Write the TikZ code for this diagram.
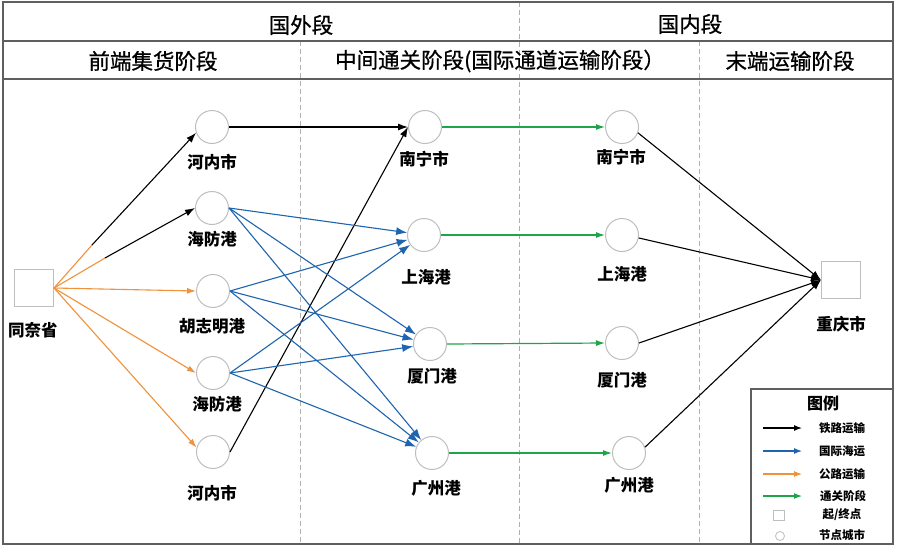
\documentclass[tikz,border=0pt]{standalone}
\usepackage{fontspec}
\setmainfont{Noto Sans CJK SC}
\newfontfamily\headfont[FakeBold=0.8]{Noto Sans CJK SC}
\usetikzlibrary{arrows.meta}
\definecolor{cblue}{RGB}{30,100,175}
\definecolor{corange}{RGB}{240,145,60}
\definecolor{cgreen}{RGB}{30,165,75}
\definecolor{cgray}{RGB}{190,190,190}
\definecolor{cdash}{RGB}{175,175,175}
\definecolor{cframe}{RGB}{95,95,95}
\begin{document}
\begin{tikzpicture}[x=1pt,y=-1pt,
  city/.style={circle,draw=cgray,line width=1pt,minimum size=33pt,inner sep=0pt},
  endpt/.style={rectangle,draw=cgray,line width=1pt,minimum width=39pt,minimum height=37pt,inner sep=0pt},
  lab/.style={font=\bfseries\fontsize{16.5}{16.5}\selectfont,inner sep=0pt},
  head/.style={font=\headfont\fontsize{21.5}{21.5}\selectfont,inner sep=0pt},
  leglab/.style={font=\bfseries\fontsize{11.5}{11.5}\selectfont,inner sep=0pt},
  frameline/.style={cframe,line width=1.3pt},
  sepline/.style={cdash,line width=1pt,dash pattern=on 5pt off 3pt},
  rail/.style={black,line width=1.1pt,-{Latex[length=10pt,width=7pt]}},
  sea/.style={cblue,line width=1.1pt,-{Latex[length=11pt,width=8pt]}},
  road/.style={corange,line width=1.1pt,-{Latex[length=9pt,width=6pt]}},
  cust/.style={cgreen,line width=1.2pt,-{Latex[length=9pt,width=6pt]}},
  legtip/.style={-{Latex[length=8pt,width=6pt]}}
]
\useasboundingbox (0,0) rectangle (900,547);
\fill[white] (0,0) rectangle (900,547);

% separators
\draw[sepline] (300,41) -- (300,544);
\draw[sepline] (519,2) -- (519,544);
\draw[sepline] (699,41) -- (699,544);

% frame and header rows
\draw[frameline] (3,2) rectangle (893,544);
\draw[frameline] (3,41) -- (893,41);
\draw[frameline] (3,79) -- (893,79);

\node[head] (h1) at (301,25) {国外段};
\node[head] (h2) at (690,24) {国内段};
\node[head] (h3) at (153,61) {前端集货阶段};
\node[head] (h4) at (500,61) {中间通关阶段(国际通道运输阶段）};
\node[head] (h5) at (790,61) {末端运输阶段};

% nodes
\node[endpt] (sq) at (34,288) {};
\node[lab] (sqL) at (33,330) {同奈省};

\node[city] (hn1) at (212,127) {};
\node[lab] (hn1L) at (212,162) {河内市};
\node[city] (hf1) at (212,208) {};
\node[lab] (hf1L) at (212,239) {海防港};
\node[city] (hcm) at (213,291) {};
\node[lab] (hcmL) at (212,326) {胡志明港};
\node[city] (hf2) at (213,373) {};
\node[lab] (hf2L) at (217,404) {海防港};
\node[city] (hn2) at (213,452) {};
\node[lab] (hn2L) at (212,493) {河内市};

\node[city] (n2) at (425,127) {};
\node[lab] (n2L) at (424,159) {南宁市};
\node[city] (s2) at (424,235) {};
\node[lab] (s2L) at (426,277) {上海港};
\node[city] (x2) at (430,344) {};
\node[lab] (x2L) at (432,376) {厦门港};
\node[city] (g2) at (432,453) {};
\node[lab] (g2L) at (436,488) {广州港};

\node[city] (n3) at (622,127) {};
\node[lab] (n3L) at (621,157) {南宁市};
\node[city] (s3) at (622,235) {};
\node[lab] (s3L) at (622,274) {上海港};
\node[city] (x3) at (622,343) {};
\node[lab] (x3L) at (622,380) {厦门港};
\node[city] (g3) at (629,453) {};
\node[lab] (g3L) at (629,485) {广州港};

\node[endpt] (cq) at (841,280) {};
\node[lab] (cqL) at (841,324) {重庆市};

% road (orange) then rail
\coordinate (kb1) at (92,245);
\coordinate (kb2) at (105,258);
\draw[corange,line width=1.1pt] (sq.east) -- (kb1);
\draw[corange,line width=1.1pt] (sq.east) -- (kb2);
\draw[rail] (kb1) -- (hn1.200);
\draw[rail] (kb2) -- (hf1.west);
\draw[road] (sq.east) -- (hcm.west);
\draw[road] (sq.east) -- (hf2.west);
\draw[road] (sq.east) -- (hn2.165);

% rail to Nanning
\draw[rail] (hn1.east) -- (n2.west);
\draw[rail] (hn2.east) -- (n2.west);

% sea routes
\foreach \a in {hf1,hcm,hf2}{
  \foreach \b in {s2,x2,g2}{
    \draw[sea] (\a.east) -- (\b);
  }
}

% customs
\draw[cust] (n2.east) -- (n3.west);
\draw[cust] (s2.east) -- (s3.west);
\draw[cust] (x2.east) -- (x3.west);
\draw[cust] (g2.east) -- (g3.west);

% rail to Chongqing
\draw[rail] (n3.-20) -- (cq.west);
\draw[rail] (s3.-10) -- (cq.west);
\draw[rail] (x3.east) -- (cq.west);
\draw[rail] (g3.20) -- (cq.west);

% legend
\draw[frameline] (751,389) rectangle (893,544);
\node[font=\bfseries\fontsize{16}{16}\selectfont,inner sep=0pt] (lgT) at (823,403) {图例};
\coordinate (la1) at (763,428); \coordinate (lb1) at (802,428);
\coordinate (la2) at (763,451); \coordinate (lb2) at (802,451);
\coordinate (la3) at (763,474); \coordinate (lb3) at (802,474);
\coordinate (la4) at (763,496); \coordinate (lb4) at (802,496);
\draw[black,line width=1.1pt,legtip] (la1) -- (lb1);
\draw[cblue,line width=1.1pt,legtip] (la2) -- (lb2);
\draw[corange,line width=1.1pt,legtip] (la3) -- (lb3);
\draw[cgreen,line width=1.1pt,legtip] (la4) -- (lb4);
\node[leglab] (lt1) at (842,428) {铁路运输};
\node[leglab] (lt2) at (842,451) {国际海运};
\node[leglab] (lt3) at (842,474) {公路运输};
\node[leglab] (lt4) at (843,496) {通关阶段};
\node[rectangle,draw=cgray,line width=0.8pt,minimum width=11pt,minimum height=10pt,inner sep=0pt] (lsq) at (779,515) {};
\node[leglab] (lt5) at (842,515) {起/终点};
\node[circle,draw=cgray,line width=0.8pt,minimum size=9pt,inner sep=0pt] (lci) at (780,536) {};
\node[leglab] (lt6) at (842,535) {节点城市};
\end{tikzpicture}
\end{document}
